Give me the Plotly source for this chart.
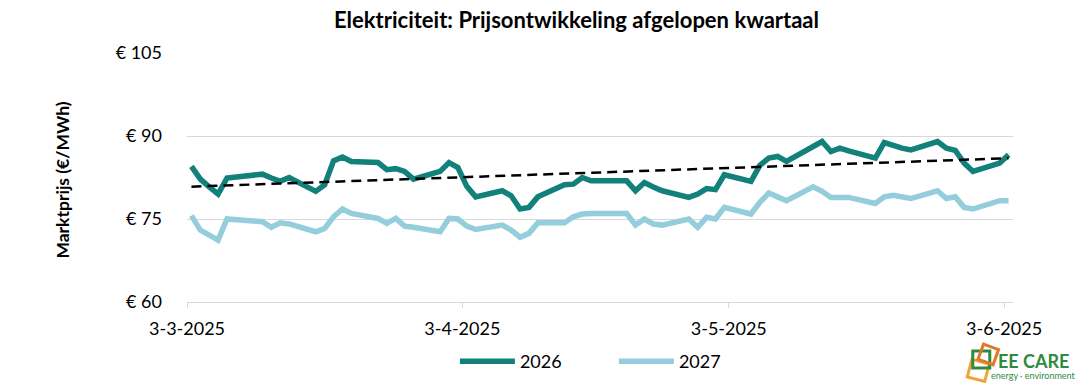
import numpy as np
import pandas as pd
import plotly.graph_objects as go

# ---- data ----
dates = [
    "2025-03-03", "2025-03-04", "2025-03-05", "2025-03-06", "2025-03-07",
    "2025-03-10", "2025-03-11", "2025-03-12", "2025-03-13", "2025-03-14",
    "2025-03-17", "2025-03-18", "2025-03-19", "2025-03-20", "2025-03-21",
    "2025-03-24", "2025-03-25", "2025-03-26", "2025-03-27", "2025-03-28",
    "2025-03-31", "2025-04-01", "2025-04-02", "2025-04-03", "2025-04-04",
    "2025-04-07", "2025-04-08", "2025-04-09", "2025-04-10", "2025-04-11",
    "2025-04-14", "2025-04-15", "2025-04-16", "2025-04-17", "2025-04-18",
    "2025-04-21", "2025-04-22", "2025-04-23", "2025-04-24", "2025-04-25",
    "2025-04-28", "2025-04-29", "2025-04-30", "2025-05-01", "2025-05-02",
    "2025-05-05", "2025-05-06", "2025-05-07", "2025-05-08", "2025-05-09",
    "2025-05-12", "2025-05-13", "2025-05-14", "2025-05-15", "2025-05-16",
    "2025-05-19", "2025-05-20", "2025-05-21", "2025-05-22", "2025-05-23",
    "2025-05-26", "2025-05-27", "2025-05-28", "2025-05-29", "2025-05-30",
    "2025-06-02", "2025-06-03",
]

prices_2026 = [
    84.5, 82.2, 80.8, 79.5, 82.4,
    82.9, 83.1, 82.4, 81.8, 82.5,
    80.0, 81.2, 85.5, 86.2, 85.4,
    85.2, 83.9, 84.1, 83.6, 82.2,
    83.6, 85.2, 84.3, 80.9, 79.0,
    80.1, 79.2, 76.8, 77.1, 79.0,
    81.2, 81.3, 82.5, 81.9, 81.9,
    81.9, 80.1, 81.6, 80.8, 80.1,
    78.9, 79.5, 80.5, 80.3, 83.0,
    81.8, 84.7, 86.0, 86.3, 85.4,
    88.1, 89.0, 87.2, 87.8, 87.3,
    86.0, 88.8, 88.2, 87.8, 87.5,
    89.0, 87.8, 87.4, 85.1, 83.6,
    85.1, 86.6,
]

prices_2027 = [
    75.6, 73.0, 72.1, 71.2, 75.0,
    74.6, 74.5, 73.5, 74.3, 74.1,
    72.7, 73.3, 75.4, 76.8, 76.0,
    75.1, 74.2, 75.1, 73.7, 73.5,
    72.7, 75.1, 75.0, 73.7, 73.1,
    73.9, 73.0, 71.7, 72.4, 74.3,
    74.3, 75.4, 75.9, 76.0, 76.0,
    76.0, 73.9, 75.0, 74.1, 73.9,
    75.0, 73.5, 75.3, 75.0, 77.1,
    75.9, 78.0, 79.7, 79.0, 78.3,
    80.8, 80.0, 78.9, 78.9, 78.9,
    77.8, 79.0, 79.3, 79.0, 78.7,
    80.1, 78.7, 79.0, 77.1, 76.8,
    78.3, 78.3,
]

tick_dates = ["2025-03-03", "2025-04-03", "2025-05-03", "2025-06-03"]
tick_labels = ["3-3-2025", "3-4-2025", "3-5-2025", "3-6-2025"]
y_ticks = [60, 75, 90, 105]
y_tick_labels = ["€ 60", "€ 75", "€ 90", "€ 105"]

# ---- derived ----
x = pd.to_datetime(dates) + pd.Timedelta(hours=12)   # points sit mid-day (date axis slots)
days = np.array([(d - x[0]).total_seconds() / 86400 for d in x])
slope, intercept = np.polyfit(days, np.array(prices_2026), 1)
trend_x = [x[0], x[-1]]
trend_y = [intercept, intercept + slope * days[-1]]

FONT = "Lato"
C2026 = "#12807B"
C2027 = "#94CDDB"
GRID = "#D9D9D9"

fig = go.Figure()
fig.add_trace(go.Scatter(x=x, y=prices_2026, mode="lines", name="2026",
                         line=dict(color=C2026, width=5.5)))
fig.add_trace(go.Scatter(x=x, y=prices_2027, mode="lines", name="2027",
                         line=dict(color=C2027, width=5.5)))
fig.add_trace(go.Scatter(x=trend_x, y=trend_y, mode="lines", name="trend",
                         showlegend=False,
                         line=dict(color="black", width=2.5, dash="10px,6px")))

W, H = 1080, 386
L, R, T, B = 187.3, 67.3, 53.3, 84.3
pw, ph = W - L - R, H - T - B


def px(xp):
    return (xp - L) / pw


def py(yp):
    return (H - B - yp) / ph


fig.update_layout(
    width=W, height=H,
    margin=dict(l=L, r=R, t=T, b=B, pad=0, autoexpand=False),
    paper_bgcolor="white", plot_bgcolor="white",
    font=dict(family=FONT, size=18, color="black"),
    showlegend=True,
    legend=dict(orientation="h", x=px(455), y=py(361), xanchor="left", yanchor="middle",
                font=dict(family=FONT, size=18, color="black"),
                itemwidth=55, entrywidth=89, bgcolor="rgba(0,0,0,0)",
                traceorder="normal"),
    xaxis=dict(type="date", range=["2025-03-03", "2025-06-04"],
               tickvals=tick_dates, ticktext=tick_labels,
               showgrid=False, showline=True, linecolor=GRID, linewidth=1,
               ticks="outside", ticklen=5, tickcolor=GRID,
               ticklabelstandoff=5, zeroline=False,
               tickfont=dict(family=FONT, size=18, color="black")),
    yaxis=dict(range=[60, 105], tickvals=y_ticks, ticktext=y_tick_labels,
               showgrid=True, gridcolor=GRID, gridwidth=1, zeroline=False,
               showline=False, ticks="", ticklabelstandoff=24,
               tickfont=dict(family=FONT, size=18, color="black")),
)

fig.add_annotation(text="<b>Elektriciteit: Prijsontwikkeling afgelopen kwartaal</b>",
                   xref="paper", yref="paper", x=px(577), y=py(20),
                   xanchor="center", yanchor="middle", showarrow=False,
                   font=dict(family=FONT, size=22, color="black"))
fig.add_annotation(text="<b>Marktprijs (€/MWh)</b>", textangle=-90,
                   xref="paper", yref="paper", x=px(62), y=py(180),
                   xanchor="center", yanchor="middle", showarrow=False,
                   font=dict(family=FONT, size=17.5, color="black"))

# ---- logo ----
def sq(cx, cy, s, ang):
    a = np.deg2rad(ang)
    pts = []
    for dx, dy in [(-1, -1), (1, -1), (1, 1), (-1, 1)]:
        rx = dx * s / 2 * np.cos(a) - dy * s / 2 * np.sin(a)
        ry = dx * s / 2 * np.sin(a) + dy * s / 2 * np.cos(a)
        pts.append((px(cx + rx), py(cy + ry)))
    return "M " + " L ".join(f"{u:.5f},{v:.5f}" for u, v in pts) + " Z"


fig.add_shape(type="path", xref="paper", yref="paper", path=sq(978, 370, 18, 15),
              line=dict(color="#F2A23A", width=3))
fig.add_shape(type="path", xref="paper", yref="paper", path=sq(981, 359, 17, 0),
              line=dict(color="#2E8B3E", width=3))
fig.add_shape(type="path", xref="paper", yref="paper", path=sq(988, 354, 16, 20),
              line=dict(color="#E2762A", width=3))
fig.add_annotation(text="<b>EE CARE</b>", xref="paper", yref="paper",
                   x=px(1033), y=py(361), xanchor="center", yanchor="middle",
                   showarrow=False, font=dict(family=FONT, size=18, color="#2E8B3E"))
fig.add_annotation(text="energy · environment", xref="paper", yref="paper",
                   x=px(1033), y=py(375), xanchor="center", yanchor="middle",
                   showarrow=False, font=dict(family=FONT, size=9, color="#2E8B3E"))

fig.write_html("out.html", config={"displayModeBar": False},
               post_script="document.body.style.margin='0px';document.body.style.padding='0px';")
